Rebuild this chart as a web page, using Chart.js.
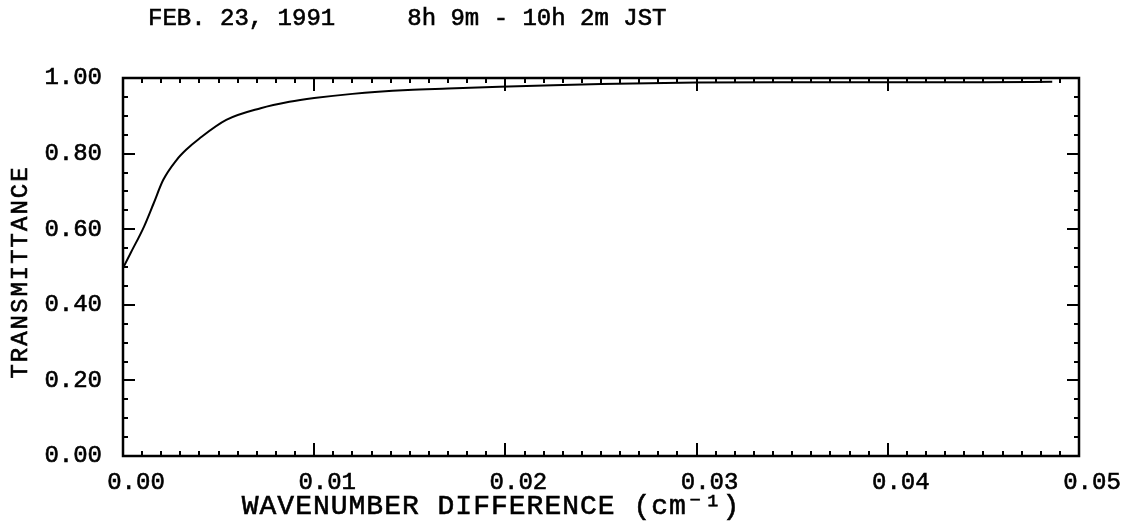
<!DOCTYPE html>
<html><head><meta charset="utf-8">
<script src="https://cdn.jsdelivr.net/npm/chart.js@4"></script>
<style>html,body{margin:0;padding:0;background:#fff}#wrap{width:1128px;height:525px}</style>
</head><body><div id="wrap"><canvas id="c" width="1128" height="525"></canvas></div>
<script>
const titleText = 'FEB. 23, 1991     8h 9m - 10h 2m JST';
const xTitle = 'WAVENUMBER DIFFERENCE (cm\u207B\u00B9)';
const yTitle = 'TRANSMITTANCE';
const wavenumberDiff = [0, 0.0004, 0.0011, 0.0016, 0.0021, 0.0028, 0.0033, 0.0040, 0.0054, 0.0072, 0.0087, 0.0100, 0.0120, 0.0149, 0.0170, 0.0197, 0.0225, 0.0250, 0.0300, 0.0350, 0.0400, 0.0450, 0.0486];
const transmittance = [0.497, 0.537, 0.607, 0.668, 0.730, 0.783, 0.810, 0.840, 0.889, 0.920, 0.937, 0.947, 0.958, 0.968, 0.972, 0.977, 0.981, 0.984, 0.988, 0.989, 0.989, 0.989, 0.990];
const xTickLabels = ['0.00', '0.01', '0.02', '0.03', '0.04', '0.05'];
const yTickLabels = ['0.00', '0.20', '0.40', '0.60', '0.80', '1.00'];

const FONT = '"Liberation Mono", "Courier New", monospace';

function heavyText(ctx, text, x, y) {
  ctx.lineWidth = 0.6;
  ctx.strokeText(text, x, y);
  ctx.fillText(text, x, y);
}

const framePlugin = {
  id: 'frame',
  afterDatasetsDraw(chart) {
    const ctx = chart.ctx, a = chart.chartArea;
    const xs = chart.scales.x, ys = chart.scales.y;
    ctx.save();
    ctx.strokeStyle = '#000';
    ctx.lineWidth = 2;
    for (let i = 0; i <= 50; i++) {
      const px = Math.round(xs.getPixelForValue(i * 0.001));
      const len = (i % 10 === 0) ? 13 : 5;
      ctx.beginPath();
      ctx.moveTo(px, a.bottom); ctx.lineTo(px, a.bottom - len);
      ctx.moveTo(px, a.top); ctx.lineTo(px, a.top + len);
      ctx.stroke();
    }
    for (let i = 0; i <= 20; i++) {
      const py = Math.round(ys.getPixelForValue(i * 0.05));
      const len = (i % 4 === 0) ? 12 : 5;
      ctx.beginPath();
      ctx.moveTo(a.left, py); ctx.lineTo(a.left + len, py);
      ctx.moveTo(a.right, py); ctx.lineTo(a.right - len, py);
      ctx.stroke();
    }
    ctx.lineWidth = 2.5;
    ctx.strokeRect(a.left, a.top, a.right - a.left, a.bottom - a.top);
    ctx.restore();
  },
  afterDraw(chart) {
    const ctx = chart.ctx;
    ctx.save();
    ctx.fillStyle = '#000';
    ctx.strokeStyle = '#000';
    ctx.textBaseline = 'middle';
    ctx.font = '24px ' + FONT;
    ctx.textAlign = 'left';
    heavyText(ctx, titleText, 148, 19);
    ctx.font = '28px ' + FONT;
    ctx.textAlign = 'center';
    try { ctx.letterSpacing = '1px'; } catch (e) {}
    heavyText(ctx, xTitle, 491, 507);
    ctx.translate(21, 272);
    ctx.rotate(-Math.PI / 2);
    ctx.font = '24px ' + FONT;
    try { ctx.letterSpacing = '2px'; } catch (e) {}
    heavyText(ctx, yTitle, 0, 0);
    ctx.restore();
  }
};

new Chart(document.getElementById('c'), {
  type: 'line',
  data: {
    datasets: [{
      data: wavenumberDiff.map((x, i) => ({ x: x, y: transmittance[i] })),
      borderColor: '#000',
      borderWidth: 2,
      pointRadius: 0,
      fill: false,
      cubicInterpolationMode: 'monotone'
    }]
  },
  options: {
    responsive: false,
    animation: false,
    devicePixelRatio: 1,
    layout: { padding: { top: 78, right: 49, left: 0, bottom: 0 } },
    plugins: { legend: { display: false }, title: { display: false }, tooltip: { enabled: false } },
    scales: {
      x: {
        type: 'linear', position: 'bottom', min: 0, max: 0.05,
        grid: { display: false, drawTicks: false },
        border: { display: false },
        afterBuildTicks: s => { s.ticks = xTickLabels.map(t => ({ value: parseFloat(t) })); },
        afterFit: s => { s.height = 69; },
        ticks: {
          autoSkip: false, maxRotation: 0, minRotation: 0,
          padding: 12, labelOffset: 13, color: '#000',
          textStrokeColor: '#000', textStrokeWidth: 0.6,
          font: { family: FONT, size: 24 },
          callback: (v, i) => xTickLabels[i]
        }
      },
      y: {
        type: 'linear', min: 0, max: 1,
        grid: { display: false, drawTicks: false },
        border: { display: false },
        afterBuildTicks: s => { s.ticks = yTickLabels.map(t => ({ value: parseFloat(t) })); },
        afterFit: s => { s.width = 123; },
        ticks: {
          autoSkip: false, padding: 21, color: '#000',
          textStrokeColor: '#000', textStrokeWidth: 0.6,
          font: { family: FONT, size: 24 },
          callback: (v, i) => yTickLabels[i]
        }
      }
    }
  },
  plugins: [framePlugin]
});
</script>
</body></html>
